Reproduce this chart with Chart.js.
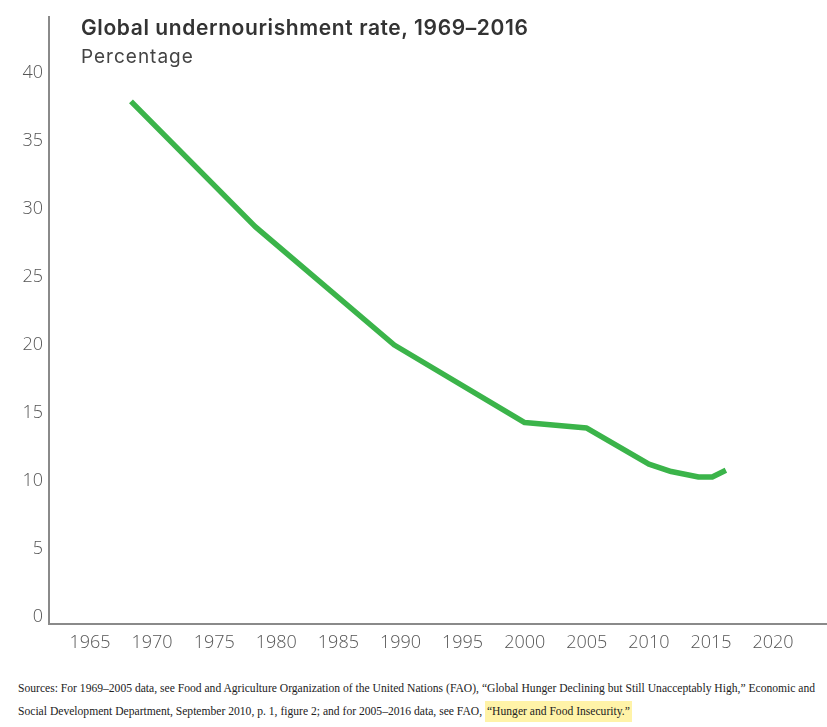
<!DOCTYPE html>
<html>
<head>
<meta charset="utf-8">
<script src="https://cdn.jsdelivr.net/npm/chart.js@4.4.1/dist/chart.umd.min.js"></script>
<style>
  body { margin: 0; background: #fff; }
  #wrap { position: relative; width: 827px; height: 727px; overflow: hidden; }
  #box { position: absolute; left: 0; top: 0; width: 827px; height: 665px; }
  .title { position: absolute; left: 81px; top: 15px; font: 600 21px "Inter", sans-serif; letter-spacing: 0.6px; color: #333; white-space: nowrap; }
  .sub { position: absolute; left: 81px; top: 45px; font: 400 19px "Inter", sans-serif; letter-spacing: 1px; color: #444; white-space: nowrap; }
  .src { position: absolute; left: 18px; top: 677px; font: 11.6px "Liberation Serif", serif; color: #222; line-height: 23px; white-space: nowrap; }
  .src mark { background: #fff3a8; color: #222; padding: 4px 2px; }
</style>
</head>
<body>
<div id="wrap">
  <div id="box"><canvas id="lineChart"></canvas></div>
  <div class="title">Global undernourishment rate, 1969–2016</div>
  <div class="sub">Percentage</div>
  <div class="src">Sources: For 1969–2005 data, see Food and Agriculture Organization of the United Nations (FAO), “Global Hunger Declining but Still Unacceptably High,” Economic and<br>Social Development Department, September 2010, p. 1, figure 2; and for 2005–2016 data, see FAO, <mark>“Hunger and Food Insecurity.”</mark></div>
</div>
<script>
// values (x positions as plotted)
const years = [1968.3, 1978.3, 1989.5, 2000, 2005, 2010, 2011.8, 2014, 2015.1, 2016.2];
const rates = [37.9, 28.7, 20.0, 14.3, 13.9, 11.25, 10.7, 10.3, 10.3, 10.8];
const xTicks = [1965, 1970, 1975, 1980, 1985, 1990, 1995, 2000, 2005, 2010, 2015, 2020];
const yTicks = [0, 5, 10, 15, 20, 25, 30, 35, 40];

const tickFont = { family: 'Open Sans', size: 18, weight: '300' };

const ctx = document.getElementById('lineChart').getContext('2d');
const chart = new Chart(ctx, {
    type: 'line',
    data: {
        datasets: [{
            data: years.map((y, i) => ({ x: y, y: rates[i] })),
            borderColor: '#3bb44a',
            borderWidth: 5.5,
            borderJoinStyle: 'round',
            borderCapStyle: 'butt',
            pointRadius: 0,
            tension: 0,
            fill: false
        }]
    },
    options: {
        responsive: true,
        maintainAspectRatio: false,
        animation: false,
        layout: { padding: { top: 17, right: 1, left: 0, bottom: 0 } },
        plugins: { legend: { display: false }, tooltip: { enabled: false } },
        scales: {
            x: {
                type: 'linear',
                min: 1961.7,
                max: 2024.26,
                afterBuildTicks: axis => { axis.ticks = xTicks.map(v => ({ value: v })); },
                afterFit: axis => { axis.height = 41; },
                grid: { display: false, drawTicks: false },
                border: { color: '#8a8a8a', width: 2 },
                ticks: { padding: 8, color: '#555', font: tickFont, callback: v => String(v), maxRotation: 0, autoSkip: false }
            },
            y: {
                min: -0.5,
                max: 44.1,
                afterBuildTicks: axis => { axis.ticks = yTicks.map(v => ({ value: v })); },
                afterFit: axis => { axis.width = 49; },
                grid: { display: false, drawTicks: false },
                border: { color: '#8a8a8a', width: 2 },
                ticks: { padding: 6, color: '#555', font: tickFont }
            }
        }
    }
});
</script>
</body>
</html>
